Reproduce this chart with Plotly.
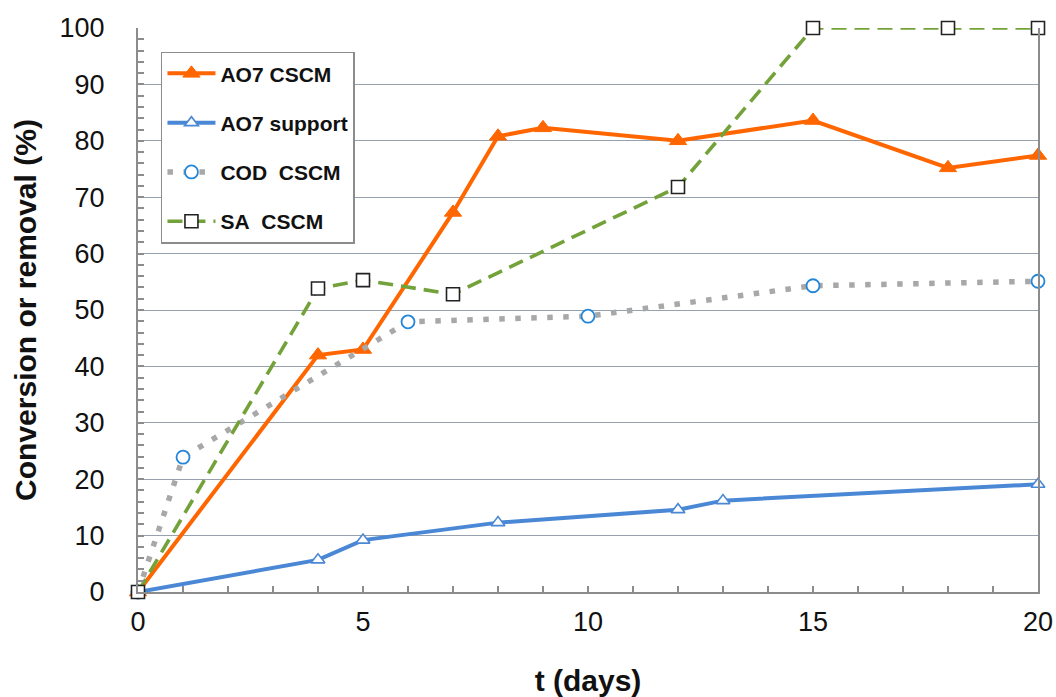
import plotly.graph_objects as go

# Time axis (days) and measured series
t_ao7_cscm = [0, 4, 5, 7, 8, 9, 12, 15, 18, 20]
ao7_cscm = [0, 42, 43, 67.3, 80.8, 82.3, 80, 83.6, 75.2, 77.4]

t_ao7_support = [0, 4, 5, 8, 12, 13, 20]
ao7_support = [0, 5.7, 9.2, 12.3, 14.6, 16.2, 19.1]

t_cod = [0, 1, 6, 10, 15, 20]
cod_cscm = [0, 23.9, 47.9, 48.9, 54.3, 55.1]

t_sa = [0, 4, 5, 7, 12, 15, 18, 20]
sa_cscm = [0, 53.8, 55.3, 52.8, 71.8, 100, 100, 100]

FONT = "Liberation Sans, Arial, sans-serif"
ORANGE = "#FF6600"
BLUE = "#4A88D6"
CIRCLE_BLUE = "#2486D8"
GREY_DOT = "#A8A8A8"
GREEN = "#74A23A"
GRID = "#97A1AD"
AXIS = "#8C8C8C"

fig = go.Figure()

fig.add_trace(go.Scatter(
    x=t_ao7_cscm, y=ao7_cscm, name="AO7 CSCM", mode="lines+markers",
    line=dict(color=ORANGE, width=4),
    marker=dict(symbol="triangle-up", size=15, color=ORANGE,
                line=dict(color=ORANGE, width=1)),
    cliponaxis=False, legendgroup="a",
))

fig.add_trace(go.Scatter(
    x=t_ao7_support, y=ao7_support, name="AO7 support", mode="lines+markers",
    line=dict(color=BLUE, width=4),
    marker=dict(symbol="triangle-up", size=12, color="white",
                line=dict(color=BLUE, width=1.6)),
    cliponaxis=False, legendgroup="b",
))

fig.add_trace(go.Scatter(
    x=t_cod, y=cod_cscm, name="COD\u00a0 CSCM", mode="lines+markers",
    line=dict(color=GREY_DOT, width=5.5, dash="5.5px,10.5px"),
    marker=dict(symbol="circle", size=13, color="white",
                line=dict(color=CIRCLE_BLUE, width=1.8)),
    cliponaxis=False, legendgroup="c",
))

fig.add_trace(go.Scatter(
    x=t_sa, y=sa_cscm, name="SA\u00a0 CSCM", mode="lines+markers",
    line=dict(color=GREEN, width=3.6, dash="15px,8px"),
    marker=dict(symbol="square", size=13, color="white",
                line=dict(color="#222222", width=1.6)),
    cliponaxis=False, legendgroup="d",
))

fig.update_layout(
    width=1056, height=697,
    margin=dict(l=138, r=18, t=28, b=105),
    paper_bgcolor="white", plot_bgcolor="white",
    font=dict(family=FONT, color="#111111"),
    showlegend=True,
    legend=dict(
        x=0.0255, y=0.958, xanchor="left", yanchor="top",
        bgcolor="white", bordercolor="#8C8C8C", borderwidth=1.5,
        font=dict(family=FONT, size=21, weight="bold", color="#111111"),
        traceorder="grouped", tracegroupgap=19, itemwidth=48,
    ),
    xaxis=dict(
        range=[0, 20], tickmode="linear", tick0=0, dtick=5,
        showgrid=False, zeroline=False, automargin=False,
        showline=True, linecolor=AXIS, linewidth=2,
        ticks="inside", ticklen=6, tickcolor=AXIS, tickwidth=1.5,
        minor=dict(dtick=1, ticks="inside", ticklen=6, tickcolor=AXIS, tickwidth=1.5),
        tickfont=dict(family=FONT, size=27, color="#111111"),
        ticklabelstandoff=5,
        title=dict(text="t (days)", standoff=34,
                   font=dict(family=FONT, size=30, weight="bold", color="#111111")),
    ),
    yaxis=dict(
        range=[0, 100], tickmode="linear", tick0=0, dtick=10,
        showgrid=True, gridcolor=GRID, gridwidth=1.3,
        zeroline=False, automargin=False,
        showline=True, linecolor=AXIS, linewidth=2, mirror=True,
        ticks="inside", ticklen=6, tickcolor=AXIS, tickwidth=1.5,
        minor=dict(dtick=2, ticks="inside", ticklen=6, tickcolor=AXIS, tickwidth=1.5,
                   showgrid=False),
        tickfont=dict(family=FONT, size=27, color="#111111"),
        ticklabelstandoff=26,
        title=dict(text="Conversion or removal (%)", standoff=14,
                   font=dict(family=FONT, size=30, weight="bold", color="#111111")),
    ),
)

fig.write_html("out.html")
